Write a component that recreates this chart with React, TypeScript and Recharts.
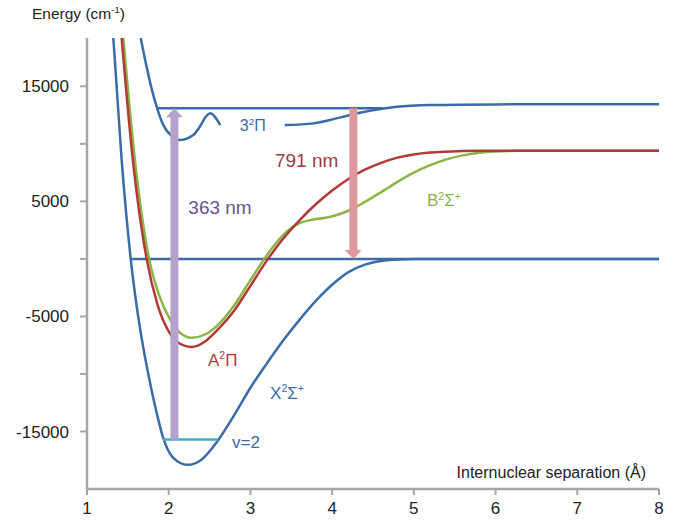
import React from 'react';
import { ComposedChart, Line, XAxis, YAxis, ReferenceLine, ReferenceDot, Label } from 'recharts';

// X²Σ+ ground state
const groundR = [1.322, 1.424, 1.535, 1.6, 1.669, 1.75, 1.85, 1.93, 2.05, 2.23, 2.4, 2.6, 2.8, 3.0, 3.2, 3.4, 3.6, 3.8, 4.0, 4.2, 4.4, 4.6, 4.8, 5.0, 5.4, 8];
const groundE = [19200, 8600, 0, -3700, -6900, -10000, -13300, -15500, -17250, -17900, -17450, -15800, -13600, -11200, -9100, -7100, -5300, -3650, -2250, -1150, -500, -180, -50, -10, 0, 0];

// A²Π
const aPiR = [1.424, 1.555, 1.73, 1.86, 2.0, 2.1, 2.28, 2.45, 2.6, 2.8, 3.0, 3.2, 3.4, 3.6, 3.8, 4.0, 4.2, 4.4, 4.6, 4.8, 5.0, 5.2, 5.4, 5.8, 6.2, 8];
const aPiE = [19200, 9000, 0, -3900, -6300, -7200, -7650, -7150, -6150, -4500, -2350, -150, 1750, 3350, 4750, 5950, 6950, 7750, 8350, 8800, 9080, 9240, 9320, 9390, 9400, 9400];

// B²Σ+
const bSigR = [1.445, 1.58, 1.76, 1.89, 2.02, 2.12, 2.28, 2.45, 2.6, 2.8, 3.0, 3.17, 3.3, 3.45, 3.6, 3.75, 3.9, 4.05, 4.22, 4.4, 4.6, 4.8, 5.0, 5.2, 5.4, 5.6, 5.8, 6.0, 6.3, 8];
const bSigE = [19200, 9000, 0, -3300, -5300, -6300, -6860, -6550, -5750, -4050, -1850, 0, 1250, 2400, 3100, 3400, 3550, 3800, 4250, 4950, 5800, 6700, 7500, 8150, 8650, 9000, 9220, 9330, 9390, 9400];

// 3²Π, drawn in two pieces around its label
const piLeftR = [1.657, 1.73, 1.79, 1.853, 1.934, 2.037, 2.14, 2.3, 2.38, 2.46, 2.51, 2.57, 2.63];
const piLeftE = [19200, 16690, 14820, 13220, 11630, 10680, 10330, 10760, 11480, 12410, 12650, 12300, 11630];
const piRightR = [3.42, 3.77, 3.97, 4.22, 4.46, 4.79, 5.2, 6.0, 8];
const piRightE = [11630, 11780, 12070, 12500, 12870, 13220, 13370, 13430, 13450];

// horizontal levels
const zeroR = [1.535, 8];
const zeroE = [0, 0];
const topR = [1.853, 4.62];
const topE = [13100, 13100];
const vibR = [1.93, 2.6];
const vibE = [-15700, -15700];

// transitions
const absR = 2.07;
const absE = [-15700, 13100];
const emR = 4.26;
const emE = [13100, 0];

// annotations ("^" = next char raised)
const labelText = ['3^2Π', '791 nm', '363 nm', 'A^2Π', 'X^2Σ^+', 'v=2', 'B^2Σ^+'];
const labelR = [2.87, 3.3, 2.24, 2.48, 3.24, 2.775, 5.16];
const labelE = [11630, 8590, 4510, -8770, -11630, -15880, 5120];
const labelColor = ['#3b6ca6', '#a33a3a', '#66558f', '#b03a38', '#3b6ca6', '#3b6ca6', '#8ab34a'];
const labelSize = [16, 19, 19, 17, 17, 17, 17];

const xTicks = [1, 2, 3, 4, 5, 6, 7, 8];
const yTicks = [-15000, -10000, -5000, 0, 5000, 10000, 15000];

const FONT = '"Liberation Sans", Arial, sans-serif';
const BLUE = '#3b6ca6';
const RED = '#b03a38';
const GREEN = '#8cb446';
const AXIS = '#a6a6a6';

const pts = (r: number[], e: number[]) => r.map((x, i) => ({ x, y: e[i] }));

function RichText({ x, y, text, fill, size, anchor = 'start' }: any) {
  const parts: { t: string; sup: boolean }[] = [];
  for (let i = 0; i < text.length; i++) {
    if (text[i] === '^') {
      parts.push({ t: text[i + 1], sup: true });
      i++;
    } else {
      const last = parts[parts.length - 1];
      if (last && !last.sup) last.t += text[i];
      else parts.push({ t: text[i], sup: false });
    }
  }
  const shift = size * 0.38;
  let prev = false;
  return (
    <text x={x} y={y} fill={fill} fontSize={size} fontFamily={FONT} textAnchor={anchor}>
      {parts.map((p, i) => {
        let dy = 0;
        if (p.sup && !prev) dy = -shift;
        if (!p.sup && prev) dy = shift;
        prev = p.sup;
        return (
          <tspan key={i} dy={dy} fontSize={p.sup ? size * 0.62 : size}>
            {p.t}
          </tspan>
        );
      })}
    </text>
  );
}

const arrowShape = (fill: string) => (p: any) => {
  const { x1, y1, x2, y2 } = p;
  const w = 8;
  const hw = 17;
  const hl = 9;
  const dir = y2 > y1 ? 1 : -1;
  const yb = y2 - dir * hl;
  const x = x1;
  const points = [
    [x - w / 2, y1],
    [x + w / 2, y1],
    [x + w / 2, yb],
    [x + hw / 2, yb],
    [x, y2],
    [x - hw / 2, yb],
    [x - w / 2, yb],
  ]
    .map((q) => q.join(','))
    .join(' ');
  return <polygon points={points} fill={fill} />;
};

export default function App() {
  const curve = (r: number[], e: number[], color: string, key: string, type: any = 'monotone', width = 2.5) => (
    <Line
      key={key}
      data={pts(r, e)}
      dataKey="y"
      type={type}
      stroke={color}
      strokeWidth={width}
      dot={false}
      activeDot={false}
      isAnimationActive={false}
    />
  );

  return (
    <div style={{ position: 'absolute', left: 0, top: 0, background: '#fff' }}>
      <ComposedChart width={674} height={521} margin={{ top: 38, right: 15, bottom: 2, left: 0 }}>
        <XAxis
          type="number"
          dataKey="x"
          domain={[1, 8]}
          ticks={xTicks}
          allowDataOverflow
          height={30}
          stroke={AXIS}
          axisLine={{ stroke: AXIS, strokeWidth: 2.5 }}
          tickLine={{ stroke: AXIS, strokeWidth: 2 }}
          tickSize={6}
          tickMargin={7}
          tick={{ fill: '#222', fontSize: 17, fontFamily: FONT }}
        >
          <Label
            content={(props: any) => {
              const vb = props.viewBox || { x: 87, y: 489, width: 572 };
              return (
                <RichText x={vb.x + vb.width - 13} y={vb.y - 11} text="Internuclear separation (Å)" fill="#222" size={16} anchor="end" />
              );
            }}
          />
        </XAxis>
        <YAxis
          type="number"
          domain={[-20000, 19200]}
          ticks={yTicks}
          allowDataOverflow
          width={87}
          stroke={AXIS}
          axisLine={{ stroke: AXIS, strokeWidth: 2.5 }}
          tickLine={{ stroke: AXIS, strokeWidth: 2 }}
          tickSize={7}
          tickMargin={11}
          tick={{ fill: '#222', fontSize: 17, fontFamily: FONT }}
          tickFormatter={(v: number) => (Math.abs(v) % 10000 === 5000 ? String(v) : '')}
        >
          <Label
            content={(props: any) => {
              const vb = props.viewBox || { x: 0, y: 38 };
              return <RichText x={vb.x + 32} y={vb.y - 19} text="Energy (cm^-^1)" fill="#222" size={15.5} />;
            }}
          />
        </YAxis>

        {curve(zeroR, zeroE, BLUE, 'zero', 'linear')}
        {curve(topR, topE, BLUE, 'top', 'linear')}
        {curve(groundR, groundE, BLUE, 'ground')}
        {curve(bSigR, bSigE, GREEN, 'bsig')}
        {curve(aPiR, aPiE, RED, 'api')}
        {curve(piLeftR, piLeftE, BLUE, 'pil')}
        {curve(piRightR, piRightE, BLUE, 'pir')}
        {curve(vibR, vibE, '#4aaac4', 'vib', 'linear')}

        <ReferenceLine
          segment={[
            { x: absR, y: absE[0] },
            { x: absR, y: absE[1] },
          ]}
          shape={arrowShape('#b4a2cc')}
        />
        <ReferenceLine
          segment={[
            { x: emR, y: emE[0] },
            { x: emR, y: emE[1] },
          ]}
          shape={arrowShape('#e0979b')}
        />

        {labelText.map((t, i) => (
          <ReferenceDot
            key={t}
            x={labelR[i]}
            y={labelE[i]}
            r={0}
            shape={(p: any) => (
              <RichText x={p.cx} y={p.cy + labelSize[i] * 0.36} text={t} fill={labelColor[i]} size={labelSize[i]} />
            )}
          />
        ))}
      </ComposedChart>
    </div>
  );
}
